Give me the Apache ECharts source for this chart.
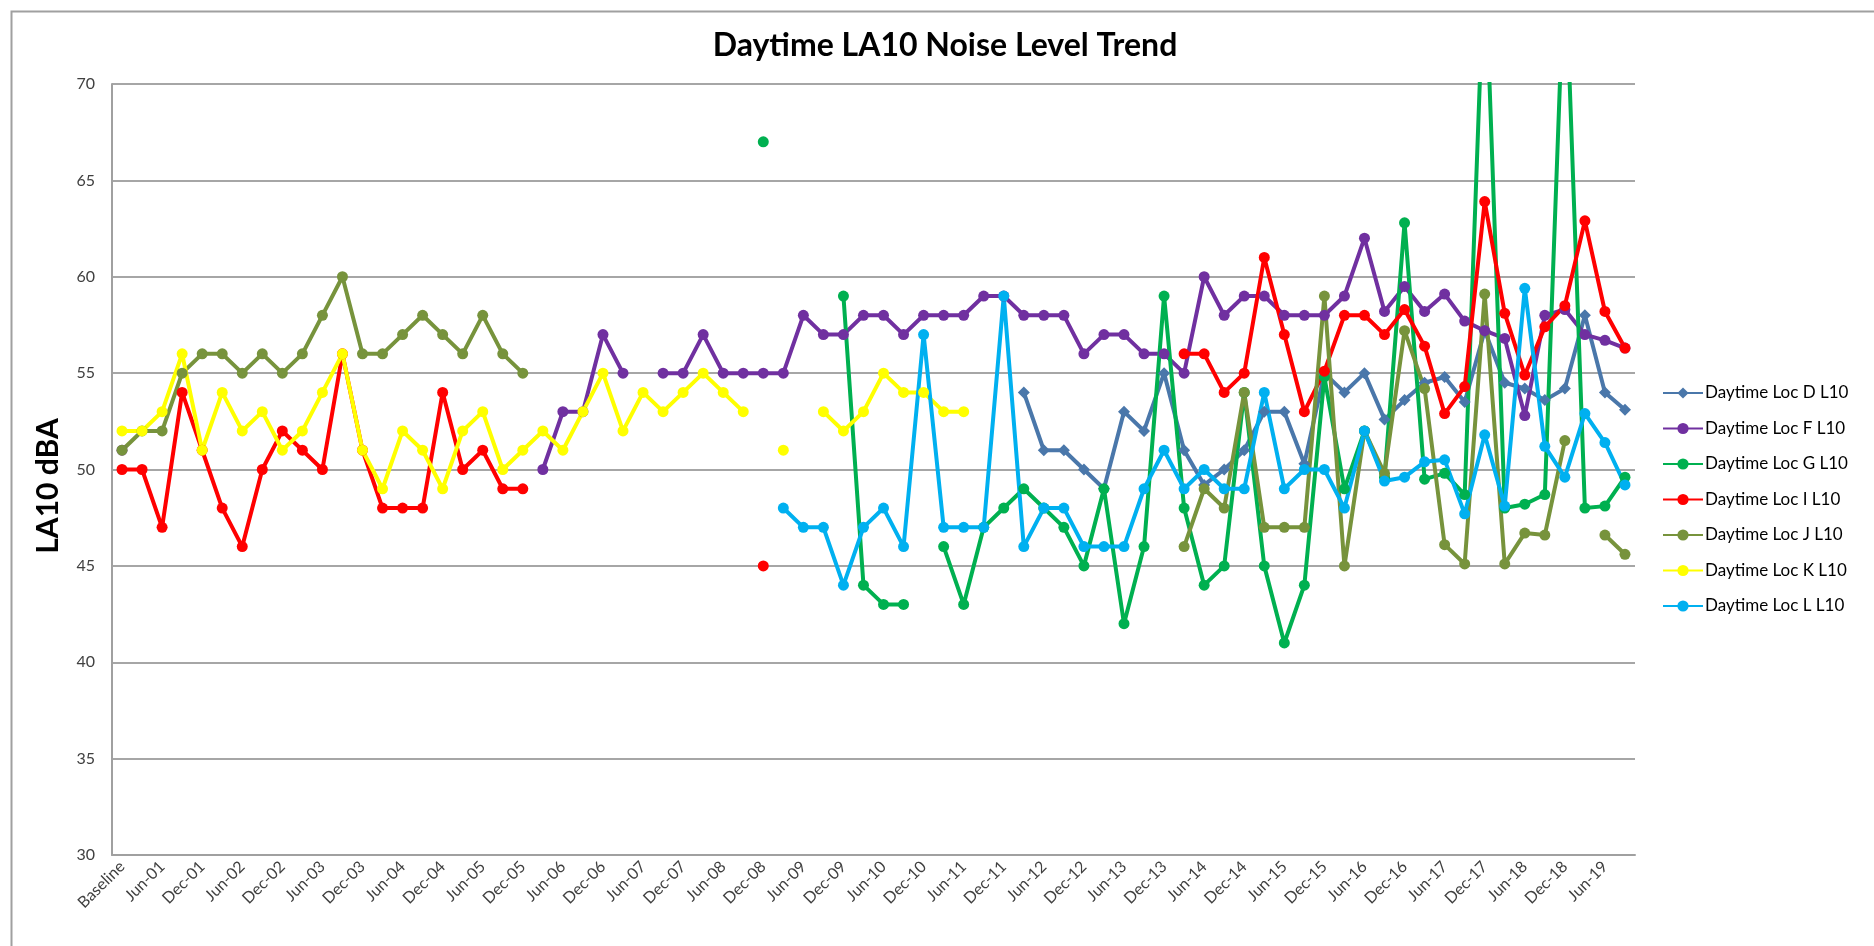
<!DOCTYPE html>
<html>
<head>
<meta charset="utf-8">
<script src="https://cdn.jsdelivr.net/npm/echarts@6/dist/echarts.min.js"></script>
<style>
  html, body { margin: 0; padding: 0; background: #fff; }
  #main { width: 1874px; height: 946px; }
</style>
</head>
<body>
<div id="main"></div>
<script>
// x categories: baseline then quarterly surveys (only every 2nd label is shown)
var categories = ['Baseline',
  'Mar-01', 'Jun-01', 'Sep-01', 'Dec-01', 'Mar-02', 'Jun-02', 'Sep-02', 'Dec-02',
  'Mar-03', 'Jun-03', 'Sep-03', 'Dec-03', 'Mar-04', 'Jun-04', 'Sep-04', 'Dec-04',
  'Mar-05', 'Jun-05', 'Sep-05', 'Dec-05', 'Mar-06', 'Jun-06', 'Sep-06', 'Dec-06',
  'Mar-07', 'Jun-07', 'Sep-07', 'Dec-07', 'Mar-08', 'Jun-08', 'Sep-08', 'Dec-08',
  'Mar-09', 'Jun-09', 'Sep-09', 'Dec-09', 'Mar-10', 'Jun-10', 'Sep-10', 'Dec-10',
  'Mar-11', 'Jun-11', 'Sep-11', 'Dec-11', 'Mar-12', 'Jun-12', 'Sep-12', 'Dec-12',
  'Mar-13', 'Jun-13', 'Sep-13', 'Dec-13', 'Mar-14', 'Jun-14', 'Sep-14', 'Dec-14',
  'Mar-15', 'Jun-15', 'Sep-15', 'Dec-15', 'Mar-16', 'Jun-16', 'Sep-16', 'Dec-16',
  'Mar-17', 'Jun-17', 'Sep-17', 'Dec-17', 'Mar-18', 'Jun-18', 'Sep-18', 'Dec-18',
  'Mar-19', 'Jun-19', 'Sep-19'];

var _ = null;

var locD = [
  _, _, _, _, _, _, _, _, _, _, _, _, _, _, _, _, _, _, _, _,
  _, _, _, _, _, _, _, _, _, _, _, _, _, _, _, _, _, _, _, _,
  _, _, _, _, _, 54, 51, 51, 50, 49, 53, 52, 55, 51, 49.2, 50, 51, 53, 53, 50.3,
  55, 54, 55, 52.6, 53.6, 54.5, 54.8, 53.5, 57.2, 54.5, 54.2, 53.6, 54.2, 58.0, 54.0, 53.1];

var locF = [
  51, _, _, _, _, _, _, _, _, _, _, _, _, _, _, _, _, _, _, _,
  _, 50, 53, 53, 57, 55, _, 55, 55, 57, 55, 55, 55, 55, 58, 57, 57, 58, 58, 57,
  58, 58, 58, 59, 59, 58, 58, 58, 56, 57, 57, 56, 56, 55, 60, 58, 59, 59, 58, 58,
  58, 59, 62, 58.2, 59.5, 58.2, 59.1, 57.7, 57.2, 56.8, 52.8, 58.0, 58.3, 57.0, 56.7, 56.3];

var locG = [
  _, _, _, _, _, _, _, _, _, _, _, _, _, _, _, _, _, _, _, _,
  _, _, _, _, _, _, _, _, _, _, _, _, 67, _, _, _, 59, 44, 43, 43,
  _, 46, 43, 47, 48, 49, 48, 47, 45, 49, 42, 46, 59, 48, 44, 45, 54, 45, 41, 44,
  54.8, 49, 52, 49.6, 62.8, 49.5, 49.8, 48.7, 77, 48.0, 48.2, 48.7, 77, 48.0, 48.1, 49.6];

var locI = [
  50, 50, 47, 54, 51, 48, 46, 50, 52, 51, 50, 56, 51, 48, 48, 48, 54, 50, 51, 49,
  49, _, _, _, _, _, _, _, _, _, _, _, 45, _, _, _, _, _, _, _,
  _, _, _, _, _, _, _, _, _, _, _, _, _, 56, 56, 54, 55, 61, 57, 53,
  55.1, 58, 58, 57, 58.3, 56.4, 52.9, 54.3, 63.9, 58.1, 54.9, 57.4, 58.5, 62.9, 58.2, 56.3];

var locJ = [
  51, 52, 52, 55, 56, 56, 55, 56, 55, 56, 58, 60, 56, 56, 57, 58, 57, 56, 58, 56,
  55, _, _, _, _, _, _, _, _, _, _, _, _, _, _, _, _, _, _, _,
  _, _, _, _, _, _, _, _, _, _, _, _, _, 46, 49, 48, 54, 47, 47, 47,
  59, 45, 52, 49.8, 57.2, 54.2, 46.1, 45.1, 59.1, 45.1, 46.7, 46.6, 51.5, _, 46.6, 45.6];

var locK = [
  52, 52, 53, 56, 51, 54, 52, 53, 51, 52, 54, 56, 51, 49, 52, 51, 49, 52, 53, 50,
  51, 52, 51, 53, 55, 52, 54, 53, 54, 55, 54, 53, _, 51, _, 53, 52, 53, 55, 54,
  54, 53, 53, _, _, _, _, _, _, _, _, _, _, _, _, _, _, _, _, _,
  _, _, _, _, _, _, _, _, _, _, _, _, _, _, _, _];

var locL = [
  _, _, _, _, _, _, _, _, _, _, _, _, _, _, _, _, _, _, _, _,
  _, _, _, _, _, _, _, _, _, _, _, _, _, 48, 47, 47, 44, 47, 48, 46,
  57, 47, 47, 47, 59, 46, 48, 48, 46, 46, 46, 49, 51, 49, 50, 49, 49, 54, 49, 50,
  50, 48, 52, 49.4, 49.6, 50.4, 50.5, 47.7, 51.8, 48.1, 59.4, 51.2, 49.6, 52.9, 51.4, 49.2];

var seriesNames = ['Daytime Loc D L10', 'Daytime Loc F L10', 'Daytime Loc G L10', 'Daytime Loc I L10',
  'Daytime Loc J L10', 'Daytime Loc K L10', 'Daytime Loc L L10'];
var seriesData = [locD, locF, locG, locI, locJ, locK, locL];
var seriesColors = ['#4a77aa', '#7030a0', '#00b050', '#ff0000', '#77933c', '#ffff00', '#00b0f0'];

var FONT = 'Lato, "Open Sans", sans-serif';

var chartDom = document.getElementById('main');
var myChart = echarts.init(chartDom);

var series = [];
for (var i = 0; i < seriesNames.length; i++) {
  series.push({
    name: seriesNames[i],
    type: 'line',
    data: seriesData[i],
    symbol: i === 0 ? 'diamond' : 'circle',
    symbolSize: i === 0 ? 12 : 11,
    showAllSymbol: true,
    connectNulls: false,
    clip: true,
    animation: false,
    lineStyle: { width: 4, color: seriesColors[i] },
    itemStyle: { color: seriesColors[i] }
  });
}

var option = {
  backgroundColor: '#fff',
  title: {
    text: 'Daytime LA10 Noise Level Trend',
    left: 940,
    textAlign: 'center',
    top: 25,
    textStyle: { fontFamily: FONT, fontSize: 32, fontWeight: 'bold', color: '#000' }
  },
  legend: {
    orient: 'vertical',
    left: 1657,
    top: 379,
    itemWidth: 40,
    itemHeight: 14,
    itemGap: 17.5,
    data: seriesNames,
    textStyle: { fontFamily: FONT, fontSize: 17, lineHeight: 18, color: '#000', padding: [0, 0, 0, -3] }
  },
  grid: {
    left: 112,
    top: 84,
    width: 1523,
    height: 771,
    containLabel: false
  },
  xAxis: {
    type: 'category',
    data: categories,
    boundaryGap: true,
    axisLine: { show: true, lineStyle: { color: '#a0a0a0', width: 2 } },
    axisTick: { show: false },
    axisLabel: {
      interval: 1,
      rotate: 45,
      margin: 9,
      fontFamily: FONT,
      fontSize: 16,
      color: '#404040'
    },
    splitLine: { show: false }
  },
  yAxis: {
    type: 'value',
    min: 30,
    max: 70,
    interval: 5,
    axisLine: { show: true, lineStyle: { color: '#a0a0a0', width: 2 } },
    axisTick: { show: false },
    axisLabel: { fontFamily: FONT, fontSize: 16, color: '#404040', margin: 17 },
    splitLine: { show: true, lineStyle: { color: '#a6a6a6', width: 2 } }
  },
  graphic: [{
    type: 'rect',
    left: 9,
    top: 9,
    shape: { width: 1900, height: 1000 },
    style: { fill: 'none', stroke: '#a0a0a0', lineWidth: 2 },
    silent: true,
    z: -1
  }, {
    // y axis title, sits a little below the plot's middle like the original
    type: 'text',
    x: 48,
    y: 486,
    rotation: Math.PI / 2,
    style: {
      text: 'LA10 dBA',
      fontFamily: FONT,
      fontSize: 30,
      fontWeight: 'bold',
      fill: '#000',
      align: 'center',
      verticalAlign: 'middle'
    },
    silent: true
  }],
  series: series
};

option && myChart.setOption(option);
</script>
</body>
</html>
